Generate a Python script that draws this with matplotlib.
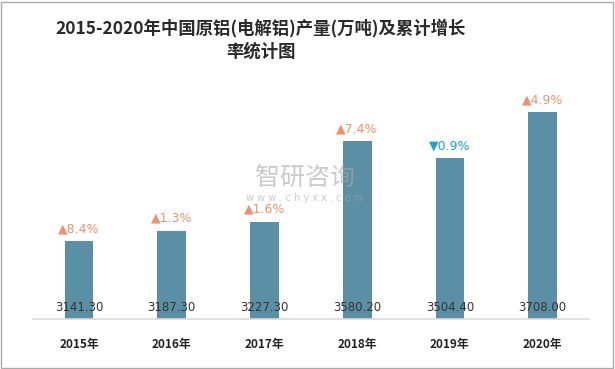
import matplotlib
matplotlib.use("Agg")
import matplotlib.pyplot as plt

years = ["2015年", "2016年", "2017年", "2018年", "2019年", "2020年"]
output = [3141.30, 3187.30, 3227.30, 3580.20, 3504.40, 3708.00]
growth = [8.4, 1.3, 1.6, 7.4, -0.9, 4.9]

plt.rcParams["font.family"] = ["Noto Sans CJK SC", "DejaVu Sans"]

fig = plt.figure(figsize=(6.15, 3.69), dpi=100)
ax = fig.add_axes([32.6 / 615, 1 - 319 / 369, (589 - 32.6) / 615, (319 - 91) / 369])

x = list(range(len(years)))
bars = ax.bar(x, output, width=0.31, color="#5B8FA6", bottom=0)
ax.set_ylim(2800, 3800)
ax.set_xlim(-0.5, len(years) - 0.5)

for xi, v, g in zip(x, output, growth):
    ax.text(xi, 2800 + 50, f"{v:.2f}", ha="center", va="center",
            fontsize=8.5, color="#333333", family=["DejaVu Sans"])
    if g >= 0:
        s, c = f"▲{g:.1f}%", "#F0906E"
    else:
        s, c = f"▼{abs(g):.1f}%", "#1CA0D8"
    ax.annotate(s, (xi, v), xytext=(0, 9), textcoords="offset points",
                ha="center", va="center", fontsize=9, color=c,
                family=["DejaVu Sans"])

ax.set_xticks(x)
ax.set_xticklabels(years, fontsize=8.5, fontweight="bold", color="#222222")
ax.tick_params(axis="x", length=0, pad=14)
ax.set_yticks([])
for side in ["left", "right", "top"]:
    ax.spines[side].set_visible(False)
ax.spines["bottom"].set_color("#D9D9D9")
ax.spines["bottom"].set_linewidth(1.2)

fig.text(261 / 615, 1 - 28 / 369, "2015-2020年中国原铝(电解铝)产量(万吨)及累计增长",
         ha="center", va="center", fontsize=12.5, fontweight="bold", color="#2A2A2A")
fig.text(261 / 615, 1 - 52 / 369, "率统计图", ha="center", va="center",
         fontsize=12.5, fontweight="bold", color="#2A2A2A")

# watermark
fig.text(305 / 615, 1 - 178 / 369, "智研咨询", ha="center", va="center",
         fontsize=18, color="#A8A8A8", alpha=0.6)
fig.text(305 / 615, 1 - 198 / 369, "w w w . c h y x x . c o m", ha="center",
         va="center", fontsize=7, color="#A8A8A8", alpha=0.6, family=["DejaVu Sans"])

border = plt.Rectangle((0.002, 0.003), 0.994, 0.992, transform=fig.transFigure,
                       fill=False, edgecolor="#AAAAAA", linewidth=1)
fig.patches.append(border)

fig.savefig("out.png", dpi=100)
